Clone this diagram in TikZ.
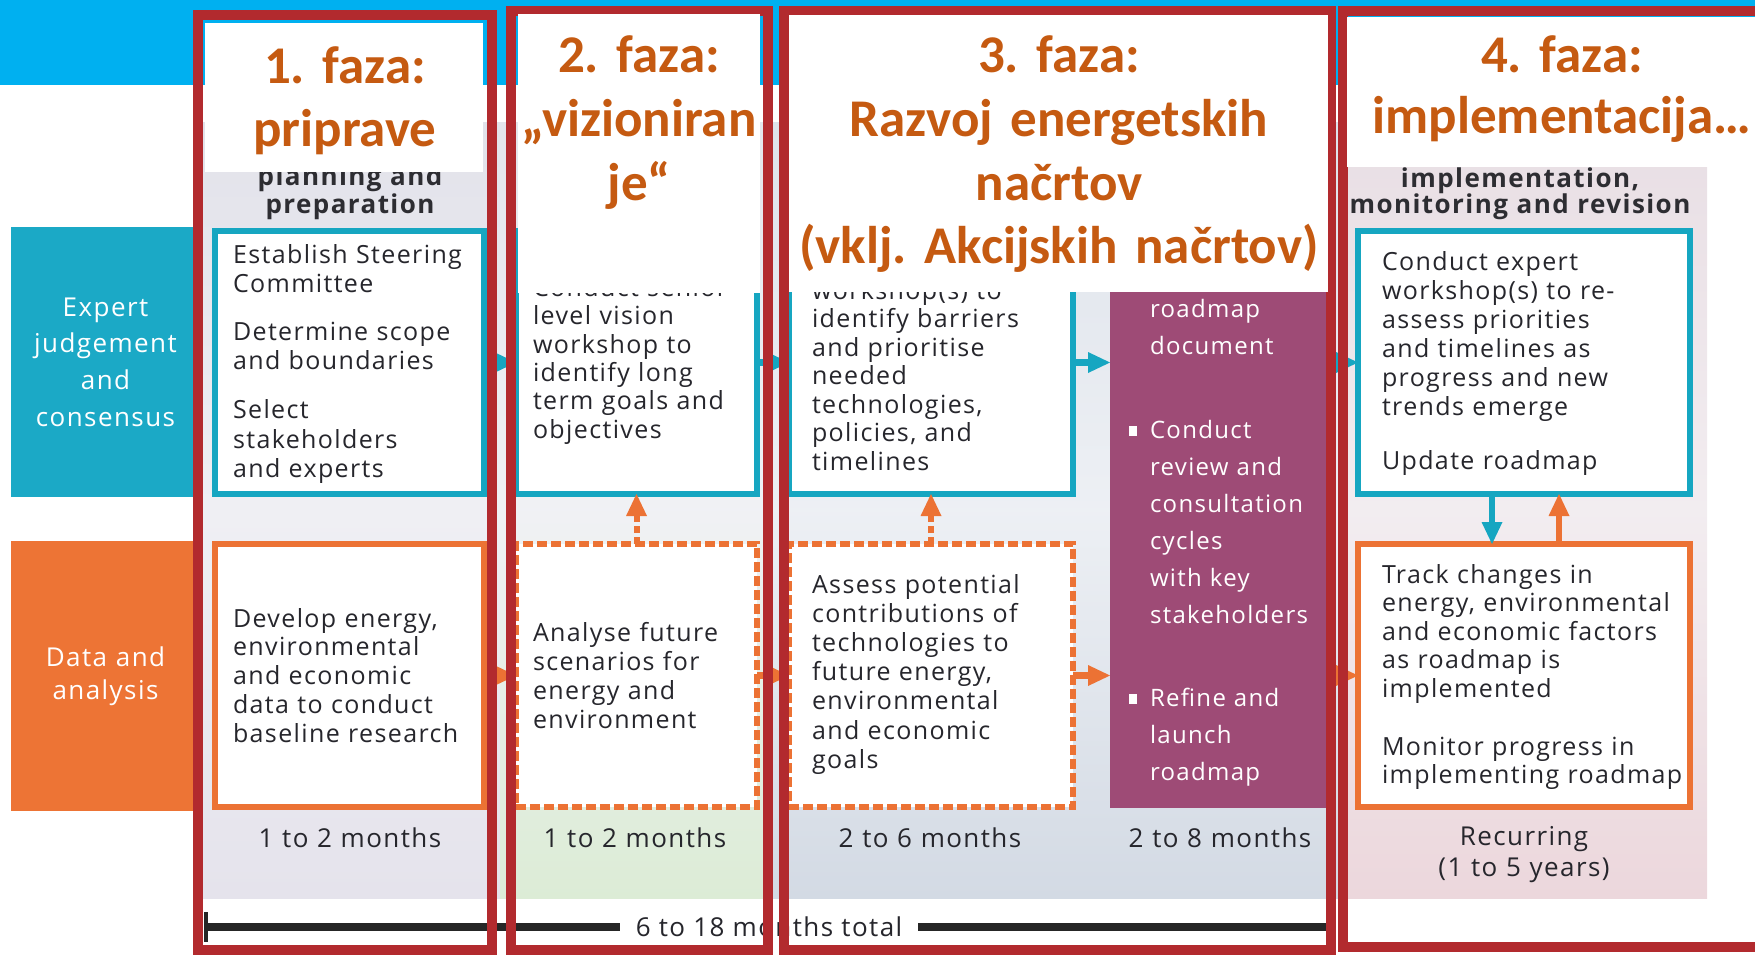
\documentclass[tikz,border=0pt]{standalone}
\usepackage{fontspec}
\setmainfont{Open Sans}[LetterSpace=5.5]
\newfontfamily\titlefont{Carlito}
\usetikzlibrary{arrows.meta}

\definecolor{topband}{RGB}{0,176,240}
\definecolor{framered}{RGB}{178,42,46}
\definecolor{phasetitle}{RGB}{197,90,17}
\definecolor{expteal}{RGB}{22,166,193}
\definecolor{labelteal}{RGB}{27,169,198}
\definecolor{dataorange}{RGB}{236,114,52}
\definecolor{labelorange}{RGB}{237,116,53}
\definecolor{roadpurple}{RGB}{158,75,118}
\definecolor{bodytext}{RGB}{38,38,44}
\definecolor{headtext}{RGB}{45,45,50}
\definecolor{planA}{RGB}{226,226,234}
\definecolor{planB}{RGB}{229,227,236}
\definecolor{visionA}{RGB}{228,230,236}
\definecolor{visionB}{RGB}{220,236,214}
\definecolor{devA}{RGB}{222,227,235}
\definecolor{devB}{RGB}{211,218,228}
\definecolor{implA}{RGB}{232,222,228}
\definecolor{implB}{RGB}{236,215,220}

\newcommand{\roadbullet}{\leavevmode\llap{\rule[2pt]{8pt}{10pt}\hspace{13pt}}}

\begin{document}
\frenchspacing
\begin{tikzpicture}[x=1pt,y=-1pt,
  every node/.style={inner sep=0pt, outer sep=0pt},
  body/.style={font=\fontsize{25}{28.8}\selectfont, text=bodytext,
    anchor=base west, align=left, text width=340pt},
  whitebody/.style={font=\fontsize{24}{37}\selectfont, text=white,
    anchor=base west, align=left, text width=200pt},
  rowlabel/.style={text=white, font=\fontsize{26}{36.7}\selectfont,
    align=center, text width=185pt, minimum width=189pt, minimum height=270pt},
  header/.style={font=\bfseries\fontsize{26}{28}\selectfont, text=headtext,
    anchor=base, align=center, text width=400pt},
  duration/.style={font=\fontsize{26}{31}\selectfont, text=bodytext,
    anchor=base, align=center, text width=260pt},
  expertbox/.style={draw=expteal, line width=6pt, fill=white, minimum height=263pt},
  databox/.style={draw=dataorange, line width=6pt, fill=white, minimum height=263pt},
  draftbox/.style={databox, dash pattern=on 10pt off 4pt},
  flow/.style={line width=7pt, -{Triangle[length=22pt,width=21pt,line width=0pt]}},
  draftflow/.style={flow, line width=6pt, dash pattern=on 7pt off 4pt},
  phaseframe/.style={draw=framered, line width=10pt},
  titletext/.style={font=\titlefont\bfseries\fontsize{53}{63.5}\selectfont,
    text=phasetitle, anchor=base, align=center, text width=620pt},
]
\useasboundingbox (0,0) rectangle (1755,958);
\clip (0,0) rectangle (1755,958);

% top band
\fill[topband] (0,0) rectangle (1755,85);

% phase backgrounds
\shade[top color=planA, bottom color=planB, middle color=planA!55!white] (200,122) rectangle (500,898);
\shade[top color=visionA, bottom color=visionB, middle color=visionA!55!white] (500,122) rectangle (772,898);
\shade[top color=devA, bottom color=devB, middle color=devA!55!white] (772,122) rectangle (1340,898);
\shade[top color=implA, bottom color=implB, middle color=implA!55!white] (1340,122) rectangle (1707,898);

% phase headers
\node[header] (hplan) at (350,185) {planning and\\preparation};
\node[header, font=\bfseries\fontsize{26}{26}\selectfont] (himpl) at (1520,187) {implementation,\\monitoring and revision};

% row labels
\node[rowlabel, fill=labelteal] (lexpert) at (105.5,362) {Expert\\judgement\\and\\consensus};
\node[rowlabel, fill=labelorange, font=\fontsize{26}{33}\selectfont] (ldata) at (105.5,676) {Data and\\analysis};

% activity boxes
\node[expertbox, minimum width=269pt] (e1) at (349.5,362.5) {};
\node[expertbox, minimum width=241pt] (e2) at (636.5,362.5) {};
\node[expertbox, minimum width=284pt] (e3) at (931,362.5) {};
\node[expertbox, minimum width=332pt] (e5) at (1524,362.5) {};
\node[databox,  minimum width=269pt] (d1) at (349.5,675.5) {};
\node[draftbox, minimum width=241pt] (d2) at (636.5,675.5) {};
\node[draftbox, minimum width=284pt] (d3) at (931,675.5) {};
\node[databox,  minimum width=332pt] (d5) at (1524,675.5) {};
\node[fill=roadpurple, minimum width=217pt, minimum height=580pt] (road) at (1218.5,518) {};

% box texts
\node[body, font=\fontsize{25}{29.2}\selectfont] (te1) at (233,263)
  {Establish Steering\\Committee\\[19pt]Determine scope\\and boundaries\\[20pt]Select\\stakeholders\\and experts};
\node[body] (td1) at (233,627)
  {Develop energy,\\environmental\\and economic\\data to conduct\\baseline research};
\node[body, font=\fontsize{25}{28.3}\selectfont] (te2) at (533,296.5)
  {Conduct senior\\level vision\\workshop to\\identify long\\term goals and\\objectives};
\node[body, font=\fontsize{25}{29}\selectfont] (td2) at (533,641)
  {Analyse future\\scenarios for\\energy and\\environment};
\node[body, font=\fontsize{25}{28.5}\selectfont] (te3) at (812,299)
  {workshop(s) to\\identify barriers\\and prioritise\\needed\\technologies,\\policies, and\\timelines};
\node[body, font=\fontsize{25}{29.2}\selectfont] (td3) at (812,593)
  {Assess potential\\contributions of\\technologies to\\future energy,\\environmental\\and economic\\goals};
\node[whitebody] (troad) at (1150,317)
  {roadmap\\document\\[47pt]\roadbullet Conduct\\review and\\consultation\\cycles\\with key\\stakeholders\\[46pt]\roadbullet Refine and\\launch\\roadmap};
\node[body, font=\fontsize{25}{29}\selectfont] (te5) at (1382,270)
  {Conduct expert\\workshop(s) to re-\\assess priorities\\and timelines as\\progress and new\\trends emerge\\[25pt]Update roadmap};
\node[body, font=\fontsize{25}{28.6}\selectfont] (td5) at (1382,583)
  {Track changes in\\energy, environmental\\and economic factors\\as roadmap is\\implemented\\[29pt]Monitor progress in\\implementing roadmap};

% flows between activities
\draw[flow, expteal] (e1.east) -- (e2.west);
\draw[flow, expteal] (e2.east) -- (e3.west);
\draw[flow, expteal] (e3.east) -- (e3.east -| road.west);
\draw[flow, expteal] (e5.west -| road.east) -- (e5.west);
\draw[flow, dataorange] (d1.east) -- (d2.west);
\draw[flow, dataorange] (d2.east) -- (d3.west);
\draw[flow, dataorange] (d3.east) -- (d3.east -| road.west);
\draw[flow, dataorange] (d5.west -| road.east) -- (d5.west);
\draw[draftflow, dataorange] (d2.north) -- (e2.south);
\draw[draftflow, dataorange] (d3.north) -- (e3.south);
\draw[flow, expteal, line width=6pt] ([xshift=-32pt]e5.south) -- ([xshift=-32pt]d5.north);
\draw[flow, dataorange, line width=6pt] ([xshift=35pt]d5.north) -- ([xshift=35pt]e5.south);

% durations
\node[duration] (m1) at (350,847) {1 to 2 months};
\node[duration] (m2) at (635,847) {1 to 2 months};
\node[duration] (m3) at (930,847) {2 to 6 months};
\node[duration] (m4) at (1220,847) {2 to 8 months};
\node[duration] (m5) at (1524,845) {Recurring\\(1 to 5 years)};

% overall timeline
\coordinate (tstart) at (206,927);
\coordinate (tend) at (1327,927);
\draw[line width=8pt, black!85] (tstart) -- (tend);
\draw[line width=4pt, black!85] ([yshift=15pt]tstart) -- ([yshift=-15pt]tstart);
\node[fill=white, inner xsep=16pt, inner ysep=3pt, text=bodytext,
  font=\fontsize{26}{31}\selectfont] (total) at (769,926.5) {6 to 18 months total};

% phase frames
\draw[phaseframe] (198,15) rectangle (492,950);
\draw[phaseframe] (511,11) rectangle (767.5,950);
\draw[phaseframe] (784,11) rectangle (1331,950);
\draw[phaseframe] (1343,11) rectangle (1800,947);

% phase titles
\fill[white] (205,23) rectangle (483,172);
\fill[white] (518,14) rectangle (760,293);
\fill[white] (789,15) rectangle (1328,292);
\fill[white] (1347,17) rectangle (1760,167);
\node[titletext] (p1) at (345,83) {1. faza:\\priprave};
\node[titletext] (p2) at (639,73) {2. faza:\\„vizioniran\\je“};
\node[titletext] (p3) at (1059,73) {3. faza:\\Razvoj energetskih\\načrtov\\(vklj. Akcijskih načrtov)};
\node[titletext, font=\titlefont\bfseries\fontsize{53}{61}\selectfont] (p4) at (1562,72) {4. faza:\\implementacija…};
\end{tikzpicture}
\end{document}
